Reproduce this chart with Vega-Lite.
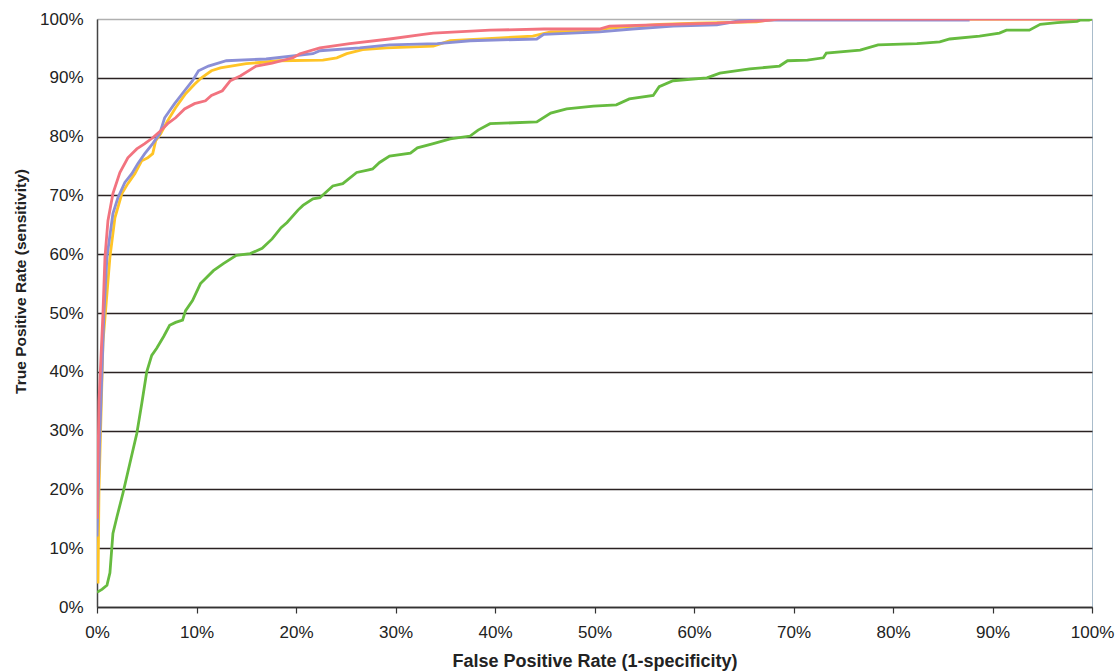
{
  "$schema": "https://vega.github.io/schema/vega-lite/v6.json",
  "width": 995,
  "height": 588,
  "autosize": {"type": "none"},
  "padding": {"left": 97, "top": 19, "right": 24, "bottom": 64},
  "background": "white",
  "view": {"stroke": "#a9bccb", "strokeWidth": 1},
  "config": {
    "font": "Liberation Sans",
    "axis": {"labelFont": "Liberation Sans", "titleFont": "Liberation Sans"}
  },
  "data": {"values": [
    {"s":"yellow","fpr":0.001,"tpr":0.04},{"s":"yellow","fpr":0.002,"tpr":0.2},{"s":"yellow","fpr":0.006,"tpr":0.45},{"s":"yellow","fpr":0.013,"tpr":0.595},{"s":"yellow","fpr":0.018,"tpr":0.662},{"s":"yellow","fpr":0.025,"tpr":0.703},{"s":"yellow","fpr":0.031,"tpr":0.72},{"s":"yellow","fpr":0.038,"tpr":0.737},{"s":"yellow","fpr":0.045,"tpr":0.759},{"s":"yellow","fpr":0.051,"tpr":0.764},{"s":"yellow","fpr":0.056,"tpr":0.771},{"s":"yellow","fpr":0.059,"tpr":0.793},{"s":"yellow","fpr":0.064,"tpr":0.805},{"s":"yellow","fpr":0.071,"tpr":0.827},{"s":"yellow","fpr":0.079,"tpr":0.849},{"s":"yellow","fpr":0.089,"tpr":0.873},{"s":"yellow","fpr":0.098,"tpr":0.889},{"s":"yellow","fpr":0.105,"tpr":0.9},{"s":"yellow","fpr":0.115,"tpr":0.912},{"s":"yellow","fpr":0.124,"tpr":0.917},{"s":"yellow","fpr":0.15,"tpr":0.924},{"s":"yellow","fpr":0.183,"tpr":0.929},{"s":"yellow","fpr":0.227,"tpr":0.93},{"s":"yellow","fpr":0.241,"tpr":0.934},{"s":"yellow","fpr":0.251,"tpr":0.941},{"s":"yellow","fpr":0.267,"tpr":0.948},{"s":"yellow","fpr":0.291,"tpr":0.951},{"s":"yellow","fpr":0.338,"tpr":0.954},{"s":"yellow","fpr":0.355,"tpr":0.963},{"s":"yellow","fpr":0.388,"tpr":0.966},{"s":"yellow","fpr":0.438,"tpr":0.971},{"s":"yellow","fpr":0.456,"tpr":0.978},{"s":"yellow","fpr":0.489,"tpr":0.979},{"s":"yellow","fpr":0.518,"tpr":0.985},{"s":"yellow","fpr":0.565,"tpr":0.991},{"s":"yellow","fpr":0.603,"tpr":0.993},{"s":"yellow","fpr":0.663,"tpr":0.995},{"s":"yellow","fpr":0.669,"tpr":0.997},{"s":"yellow","fpr":0.685,"tpr":1.0},{"s":"yellow","fpr":1.0,"tpr":1.0},

    {"s":"blue","fpr":0.0,"tpr":0.12},{"s":"blue","fpr":0.003,"tpr":0.3},{"s":"blue","fpr":0.007,"tpr":0.5},{"s":"blue","fpr":0.01,"tpr":0.595},{"s":"blue","fpr":0.016,"tpr":0.669},{"s":"blue","fpr":0.021,"tpr":0.696},{"s":"blue","fpr":0.028,"tpr":0.722},{"s":"blue","fpr":0.035,"tpr":0.737},{"s":"blue","fpr":0.041,"tpr":0.754},{"s":"blue","fpr":0.048,"tpr":0.771},{"s":"blue","fpr":0.056,"tpr":0.788},{"s":"blue","fpr":0.063,"tpr":0.805},{"s":"blue","fpr":0.068,"tpr":0.832},{"s":"blue","fpr":0.078,"tpr":0.856},{"s":"blue","fpr":0.088,"tpr":0.878},{"s":"blue","fpr":0.096,"tpr":0.895},{"s":"blue","fpr":0.102,"tpr":0.912},{"s":"blue","fpr":0.112,"tpr":0.92},{"s":"blue","fpr":0.13,"tpr":0.929},{"s":"blue","fpr":0.17,"tpr":0.932},{"s":"blue","fpr":0.217,"tpr":0.941},{"s":"blue","fpr":0.224,"tpr":0.946},{"s":"blue","fpr":0.264,"tpr":0.951},{"s":"blue","fpr":0.294,"tpr":0.956},{"s":"blue","fpr":0.342,"tpr":0.958},{"s":"blue","fpr":0.375,"tpr":0.963},{"s":"blue","fpr":0.442,"tpr":0.966},{"s":"blue","fpr":0.449,"tpr":0.974},{"s":"blue","fpr":0.505,"tpr":0.978},{"s":"blue","fpr":0.538,"tpr":0.983},{"s":"blue","fpr":0.579,"tpr":0.988},{"s":"blue","fpr":0.623,"tpr":0.99},{"s":"blue","fpr":0.646,"tpr":0.997},{"s":"blue","fpr":0.663,"tpr":0.998},{"s":"blue","fpr":0.877,"tpr":0.998},

    {"s":"red","fpr":0.0,"tpr":0.15},{"s":"red","fpr":0.002,"tpr":0.35},{"s":"red","fpr":0.006,"tpr":0.5},{"s":"red","fpr":0.008,"tpr":0.595},{"s":"red","fpr":0.011,"tpr":0.657},{"s":"red","fpr":0.016,"tpr":0.703},{"s":"red","fpr":0.023,"tpr":0.739},{"s":"red","fpr":0.031,"tpr":0.764},{"s":"red","fpr":0.04,"tpr":0.779},{"s":"red","fpr":0.048,"tpr":0.788},{"s":"red","fpr":0.056,"tpr":0.798},{"s":"red","fpr":0.064,"tpr":0.81},{"s":"red","fpr":0.071,"tpr":0.822},{"s":"red","fpr":0.079,"tpr":0.832},{"s":"red","fpr":0.088,"tpr":0.847},{"s":"red","fpr":0.098,"tpr":0.856},{"s":"red","fpr":0.109,"tpr":0.861},{"s":"red","fpr":0.115,"tpr":0.87},{"s":"red","fpr":0.126,"tpr":0.878},{"s":"red","fpr":0.134,"tpr":0.895},{"s":"red","fpr":0.144,"tpr":0.903},{"s":"red","fpr":0.16,"tpr":0.92},{"s":"red","fpr":0.176,"tpr":0.925},{"s":"red","fpr":0.197,"tpr":0.934},{"s":"red","fpr":0.204,"tpr":0.941},{"s":"red","fpr":0.224,"tpr":0.951},{"s":"red","fpr":0.254,"tpr":0.958},{"s":"red","fpr":0.294,"tpr":0.966},{"s":"red","fpr":0.328,"tpr":0.974},{"s":"red","fpr":0.338,"tpr":0.976},{"s":"red","fpr":0.395,"tpr":0.981},{"s":"red","fpr":0.449,"tpr":0.983},{"s":"red","fpr":0.505,"tpr":0.983},{"s":"red","fpr":0.515,"tpr":0.988},{"s":"red","fpr":0.623,"tpr":0.993},{"s":"red","fpr":0.669,"tpr":0.997},{"s":"red","fpr":0.685,"tpr":1.0},{"s":"red","fpr":1.0,"tpr":1.0},

    {"s":"green","fpr":0.0,"tpr":0.025},{"s":"green","fpr":0.005,"tpr":0.03},{"s":"green","fpr":0.01,"tpr":0.037},{"s":"green","fpr":0.013,"tpr":0.058},{"s":"green","fpr":0.016,"tpr":0.125},{"s":"green","fpr":0.02,"tpr":0.153},{"s":"green","fpr":0.026,"tpr":0.193},{"s":"green","fpr":0.033,"tpr":0.244},{"s":"green","fpr":0.04,"tpr":0.295},{"s":"green","fpr":0.045,"tpr":0.346},{"s":"green","fpr":0.05,"tpr":0.4},{"s":"green","fpr":0.055,"tpr":0.428},{"s":"green","fpr":0.06,"tpr":0.44},{"s":"green","fpr":0.067,"tpr":0.46},{"s":"green","fpr":0.073,"tpr":0.479},{"s":"green","fpr":0.079,"tpr":0.484},{"s":"green","fpr":0.086,"tpr":0.488},{"s":"green","fpr":0.089,"tpr":0.504},{"s":"green","fpr":0.096,"tpr":0.521},{"s":"green","fpr":0.104,"tpr":0.55},{"s":"green","fpr":0.117,"tpr":0.572},{"s":"green","fpr":0.127,"tpr":0.584},{"s":"green","fpr":0.14,"tpr":0.598},{"s":"green","fpr":0.154,"tpr":0.601},{"s":"green","fpr":0.166,"tpr":0.61},{"s":"green","fpr":0.176,"tpr":0.626},{"s":"green","fpr":0.185,"tpr":0.645},{"s":"green","fpr":0.191,"tpr":0.654},{"s":"green","fpr":0.202,"tpr":0.675},{"s":"green","fpr":0.207,"tpr":0.683},{"s":"green","fpr":0.217,"tpr":0.694},{"s":"green","fpr":0.224,"tpr":0.696},{"s":"green","fpr":0.237,"tpr":0.716},{"s":"green","fpr":0.247,"tpr":0.72},{"s":"green","fpr":0.261,"tpr":0.739},{"s":"green","fpr":0.272,"tpr":0.743},{"s":"green","fpr":0.277,"tpr":0.745},{"s":"green","fpr":0.284,"tpr":0.756},{"s":"green","fpr":0.294,"tpr":0.767},{"s":"green","fpr":0.315,"tpr":0.772},{"s":"green","fpr":0.322,"tpr":0.781},{"s":"green","fpr":0.338,"tpr":0.788},{"s":"green","fpr":0.355,"tpr":0.796},{"s":"green","fpr":0.375,"tpr":0.801},{"s":"green","fpr":0.383,"tpr":0.811},{"s":"green","fpr":0.395,"tpr":0.822},{"s":"green","fpr":0.442,"tpr":0.825},{"s":"green","fpr":0.456,"tpr":0.84},{"s":"green","fpr":0.472,"tpr":0.847},{"s":"green","fpr":0.499,"tpr":0.852},{"s":"green","fpr":0.522,"tpr":0.854},{"s":"green","fpr":0.535,"tpr":0.864},{"s":"green","fpr":0.559,"tpr":0.87},{"s":"green","fpr":0.565,"tpr":0.885},{"s":"green","fpr":0.579,"tpr":0.895},{"s":"green","fpr":0.613,"tpr":0.9},{"s":"green","fpr":0.626,"tpr":0.908},{"s":"green","fpr":0.656,"tpr":0.915},{"s":"green","fpr":0.686,"tpr":0.92},{"s":"green","fpr":0.694,"tpr":0.929},{"s":"green","fpr":0.714,"tpr":0.93},{"s":"green","fpr":0.73,"tpr":0.934},{"s":"green","fpr":0.733,"tpr":0.942},{"s":"green","fpr":0.767,"tpr":0.947},{"s":"green","fpr":0.785,"tpr":0.956},{"s":"green","fpr":0.824,"tpr":0.958},{"s":"green","fpr":0.847,"tpr":0.961},{"s":"green","fpr":0.857,"tpr":0.966},{"s":"green","fpr":0.887,"tpr":0.971},{"s":"green","fpr":0.907,"tpr":0.976},{"s":"green","fpr":0.914,"tpr":0.981},{"s":"green","fpr":0.937,"tpr":0.981},{"s":"green","fpr":0.948,"tpr":0.991},{"s":"green","fpr":0.965,"tpr":0.994},{"s":"green","fpr":0.985,"tpr":0.996},{"s":"green","fpr":0.988,"tpr":0.998},{"s":"green","fpr":0.997,"tpr":0.998},{"s":"green","fpr":1.0,"tpr":1.0}
  ]},
  "encoding": {
    "x": {
      "field": "fpr", "type": "quantitative",
      "scale": {"domain": [0, 1], "nice": false, "zero": true},
      "axis": {
        "title": "False Positive Rate (1-specificity)",
        "format": ".0%", "values": [0,0.1,0.2,0.3,0.4,0.5,0.6,0.7,0.8,0.9,1],
        "grid": false, "labelFlush": false, "labelOverlap": false, "labelBound": false,
        "domainColor": "#333", "domainWidth": 1.5,
        "tickColor": "#333", "tickSize": 6, "tickWidth": 1.2,
        "labelFontSize": 17, "labelColor": "#222", "labelPadding": 11,
        "titleFontSize": 18, "titleFontWeight": "bold", "titleColor": "#222", "titlePadding": 12
      }
    },
    "y": {
      "field": "tpr", "type": "quantitative",
      "scale": {"domain": [0, 1], "nice": false},
      "axis": {
        "title": "True Positive Rate (sensitivity)",
        "format": ".0%", "values": [0,0.1,0.2,0.3,0.4,0.5,0.6,0.7,0.8,0.9,1],
        "grid": true, "labelFlush": false, "labelOverlap": false, "labelBound": false,
        "gridColor": {"condition": {"test": "datum.value >= 1", "value": "#b0b0b0"}, "value": "#2a2222"},
        "gridWidth": 1.3,
        "domainColor": "#444", "domainWidth": 1.5,
        "ticks": false,
        "labelFontSize": 17, "labelColor": "#222", "labelPadding": 14,
        "titleFontSize": 15.5, "titleFontWeight": "bold", "titleColor": "#222",
        "titleAngle": 270, "titleAlign": "center", "titleBaseline": "middle",
        "titleX": -77, "titleY": 262
      }
    },
    "order": {"field": "fpr", "type": "quantitative"}
  },
  "layer": [
    {"transform": [{"filter": "datum.s === 'yellow'"}], "mark": {"type": "line", "color": "#ffc426", "strokeWidth": 2.8, "clip": true}},
    {"transform": [{"filter": "datum.s === 'blue'"}], "mark": {"type": "line", "color": "#8b8fd6", "strokeWidth": 2.8, "clip": true}},
    {"transform": [{"filter": "datum.s === 'red'"}], "mark": {"type": "line", "color": "#f2737f", "strokeWidth": 2.8, "clip": true}},
    {"transform": [{"filter": "datum.s === 'green'"}], "mark": {"type": "line", "color": "#66bb3f", "strokeWidth": 2.8, "clip": true}}
  ]
}
